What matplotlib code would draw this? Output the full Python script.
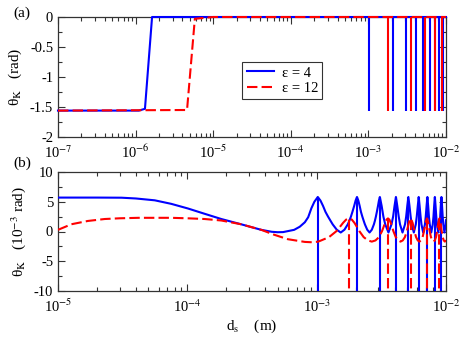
import matplotlib
matplotlib.use("Agg")
import matplotlib.pyplot as plt
from matplotlib.ticker import FixedLocator, LogLocator, NullFormatter, MultipleLocator
from matplotlib.lines import Line2D

plt.rcParams['font.family'] = ['Liberation Serif', 'DejaVu Serif']
plt.rcParams['mathtext.fontset'] = 'stix'
plt.rcParams['axes.unicode_minus'] = False

# ---------------- data ----------------
# Panel (a): theta_K in rad vs d_s in m
a_blue_x = [1e-7, 1.1e-6, 1.32e-6, 1.63e-6, 1e-2]
a_blue_y = [-1.56, -1.56, -1.53, 0.0, 0.0]
a_red_x = [1e-7, 4.6e-6, 5.8e-6, 1e-5, 1e-2]
a_red_y = [-1.56, -1.55, -0.03, 0.0, 0.0]
# spike positions (mm) and depth (rad)
blue_spikes_mm = [1.02, 2.05, 3.08, 4.10, 5.12, 6.15, 7.18, 8.20, 9.22]
red_spikes_mm = [1.78, 3.56, 5.34, 7.12, 8.90]
a_spike_depth = -1.57

# Panel (b): theta_K in 1e-3 rad vs d_s in mm
b_blue_x_mm = [0.010, 0.020, 0.031, 0.040, 0.056, 0.075, 0.101, 0.135, 0.183, 0.260,
               0.373, 0.450, 0.500, 0.550, 0.670, 0.740, 0.810, 0.860, 0.910, 0.960, 1.02,
               1.07, 1.12, 1.17, 1.225, 1.28, 1.33, 1.43, 1.535, 1.64, 1.74, 1.79, 1.84, 1.89, 1.95, 2.00, 2.05,
               2.10, 2.15, 2.20, 2.255, 2.31, 2.36, 2.46, 2.565, 2.67, 2.77, 2.82, 2.87, 2.92, 2.98, 3.03, 3.08,
               3.18, 3.28, 3.39, 3.59, 3.79, 3.90, 4.00, 4.10,
               4.20, 4.31, 4.41, 4.61, 4.82, 4.92, 5.02, 5.12,
               5.22, 5.33, 5.43, 5.64, 5.84, 5.94, 6.05, 6.15,
               6.25, 6.36, 6.46, 6.66, 6.87, 6.97, 7.08, 7.18,
               7.28, 7.38, 7.49, 7.69, 7.90, 8.00, 8.10, 8.20,
               8.30, 8.41, 8.51, 8.71, 8.92, 9.02, 9.12, 9.22,
               9.32, 9.43, 9.53, 9.73, 9.94, 10.0]
b_blue_y = [5.70, 5.70, 5.68, 5.55, 5.24, 4.65, 3.87, 3.00, 2.10, 1.22,
            0.28, -0.05, -0.12, -0.10, 0.28, 0.80, 1.55, 2.40, 3.90, 5.00, 5.80,
            5.2, 4.3, 3.3, 2.5, 1.8, 1.2, 0.3, -0.17, 0.3, 1.2, 1.8, 2.5, 3.3, 4.3, 5.2, 5.8,
            5.2, 4.3, 3.3, 2.5, 1.8, 1.2, 0.3, -0.17, 0.3, 1.2, 1.8, 2.5, 3.3, 4.3, 5.2, 5.8,
            4.3, 2.5, 1.2, -0.17, 1.2, 2.5, 4.3, 5.8,
            4.3, 2.5, 1.2, -0.17, 1.2, 2.5, 4.3, 5.8,
            4.3, 2.5, 1.2, -0.17, 1.2, 2.5, 4.3, 5.8,
            4.3, 2.5, 1.2, -0.17, 1.2, 2.5, 4.3, 5.8,
            4.3, 2.5, 1.2, -0.17, 1.2, 2.5, 4.3, 5.8,
            4.3, 2.5, 1.2, -0.17, 1.2, 2.5, 4.3, 5.8,
            4.3, 2.5, 1.2, -0.17, 1.2, 1.9]
b_blue_peak = 5.8

b_red_x_mm = [0.010, 0.0127, 0.017, 0.023, 0.030, 0.042, 0.075, 0.100, 0.136, 0.183,
              0.260, 0.373, 0.470, 0.600, 0.810, 0.900, 1.020, 1.07, 1.245, 1.42, 1.51, 1.60, 1.69, 1.78,
              1.87, 1.96, 2.05, 2.14, 2.31, 2.49, 2.67, 2.85, 3.03, 3.20, 3.29, 3.38, 3.47, 3.56,
              3.65, 3.74, 3.83, 3.92, 4.09, 4.27, 4.45, 4.63, 4.81, 4.98, 5.07, 5.16, 5.25, 5.34,
              5.52, 5.70, 5.87, 6.05, 6.23, 6.41, 6.59, 6.76, 6.94, 7.12,
              7.30, 7.48, 7.65, 7.83, 8.01, 8.19, 8.37, 8.54, 8.72, 8.90,
              9.08, 9.26, 9.43, 9.61, 9.79, 9.97, 10.0]
b_red_y = [0.28, 1.22, 1.77, 2.10, 2.22, 2.30, 2.30, 2.22, 2.10, 1.85,
           1.22, 0.28, -0.55, -1.30, -1.75, -1.80, -1.72, -1.55, -0.95, 0.05, 0.75, 1.45, 2.0, 2.2,
           2.0, 1.45, 0.75, 0.05, -0.95, -1.5, -1.7, -1.5, -0.95, 0.05, 0.75, 1.45, 2.0, 2.2,
           2.0, 1.45, 0.75, 0.05, -0.95, -1.5, -1.7, -1.5, -0.95, 0.05, 0.75, 1.45, 2.0, 2.2,
           1.45, 0.05, -0.95, -1.5, -1.7, -1.5, -0.95, 0.05, 1.45, 2.2,
           1.45, 0.05, -0.95, -1.5, -1.7, -1.5, -0.95, 0.05, 1.45, 2.2,
           1.45, 0.05, -0.95, -1.5, -1.7, -1.5, -1.45]
b_red_peak = 2.2

a_yticks = [-2, -1.5, -1, -0.5, 0]
a_ylabels = ['-2', '-1.5', '-1', '-0.5', '0']
a_xticks = [1e-7, 1e-6, 1e-5, 1e-4, 1e-3, 1e-2]
a_xlabels = [r'10$^{-7}$', r'10$^{-6}$', r'10$^{-5}$', r'10$^{-4}$', r'10$^{-3}$', r'10$^{-2}$']
b_yticks = [-10, -5, 0, 5, 10]
b_ylabels = ['-10', '-5', '0', '5', '10']
b_xticks = [1e-5, 1e-4, 1e-3, 1e-2]
b_xlabels = [r'10$^{-5}$', r'10$^{-4}$', r'10$^{-3}$', r'10$^{-2}$']

legend_labels = ['ε = 4', 'ε = 12']

BLUE = '#0000ff'
RED = '#ff0000'
FRAME = '#333333'
FS = 10.5
DASH = (0, (5, 2))

fig = plt.figure(figsize=(4.63, 3.40), dpi=100)
axA = fig.add_axes([58 / 463, 1 - 137 / 340, 388 / 463, 120 / 340])
axB = fig.add_axes([58 / 463, 1 - 291 / 340, 388 / 463, 119 / 340])

def style(ax):
    for s in ax.spines.values():
        s.set_color(FRAME)
        s.set_linewidth(0.9)
    ax.tick_params(which='both', direction='in', top=True, right=True,
                   color=FRAME, labelsize=FS, width=0.8)
    ax.tick_params(which='major', length=5)
    ax.tick_params(which='minor', length=2.8)
    ax.tick_params(axis='x', which='major', pad=5)
    ax.set_xscale('log')
    ax.xaxis.set_minor_locator(LogLocator(base=10, subs=range(2, 10), numticks=20))
    ax.xaxis.set_minor_formatter(NullFormatter())

# ---- panel (a)
style(axA)
axA.plot(a_blue_x, a_blue_y, color=BLUE, lw=1.5, clip_on=False, zorder=3)
axA.vlines([v * 1e-3 for v in blue_spikes_mm], a_spike_depth, 0, color=BLUE, lw=1.5, zorder=3)
axA.plot(a_red_x, a_red_y, color=RED, lw=1.5, ls=DASH, clip_on=False, zorder=4)
axA.vlines([v * 1e-3 for v in red_spikes_mm], a_spike_depth, 0, color=RED, lw=1.5, zorder=4)
axA.set_xlim(1e-7, 1e-2)
axA.set_ylim(-2, 0)
axA.yaxis.set_major_locator(FixedLocator(a_yticks))
axA.set_yticklabels(a_ylabels)
axA.yaxis.set_minor_locator(MultipleLocator(0.25))
axA.xaxis.set_major_locator(FixedLocator(a_xticks))
axA.set_xticklabels(a_xlabels)
axA.set_ylabel(r'θ$_{\mathrm{K}}$   (rad)', fontsize=FS + 0.5, labelpad=4)

handles = [Line2D([], [], color=BLUE, lw=1.5),
           Line2D([], [], color=RED, lw=1.5, ls=DASH)]
leg = axA.legend(handles, legend_labels, loc='upper left', bbox_to_anchor=(0.475, 0.625),
                 fontsize=FS, frameon=True, fancybox=False, handlelength=1.9,
                 handletextpad=0.5, borderpad=0.3, labelspacing=0.15, borderaxespad=0)
leg.get_frame().set_edgecolor('black')
leg.get_frame().set_linewidth(0.8)

# ---- panel (b)
style(axB)
axB.plot([v * 1e-3 for v in b_blue_x_mm], b_blue_y, color=BLUE, lw=1.5, zorder=3)
axB.vlines([v * 1e-3 for v in blue_spikes_mm], -12, b_blue_peak, color=BLUE, lw=1.5, zorder=3)
axB.plot([v * 1e-3 for v in b_red_x_mm], b_red_y, color=RED, lw=1.5, ls=DASH, zorder=4)
axB.vlines([v * 1e-3 for v in red_spikes_mm], -12, b_red_peak, color=RED, lw=1.5,
           linestyles=[DASH], zorder=4)
axB.set_xlim(1e-5, 1e-2)
axB.set_ylim(-10, 10)
axB.yaxis.set_major_locator(FixedLocator(b_yticks))
axB.set_yticklabels(b_ylabels)
axB.yaxis.set_minor_locator(MultipleLocator(2.5))
axB.xaxis.set_major_locator(FixedLocator(b_xticks))
axB.set_xticklabels(b_xlabels)
axB.set_ylabel(r'θ$_{\mathrm{K}}$   (10$^{-3}$ rad)', fontsize=FS + 0.5, labelpad=4)
axB.set_xlabel(r'd$_{\mathrm{s}}$    (m)', fontsize=FS + 0.5, labelpad=2)

fig.text(13 / 463, 1 - 13 / 340, '(a)', fontsize=FS + 0.5, va='center', ha='left')
fig.text(13 / 463, 1 - 163 / 340, '(b)', fontsize=FS + 0.5, va='center', ha='left')

fig.savefig('out.png', dpi=100)
